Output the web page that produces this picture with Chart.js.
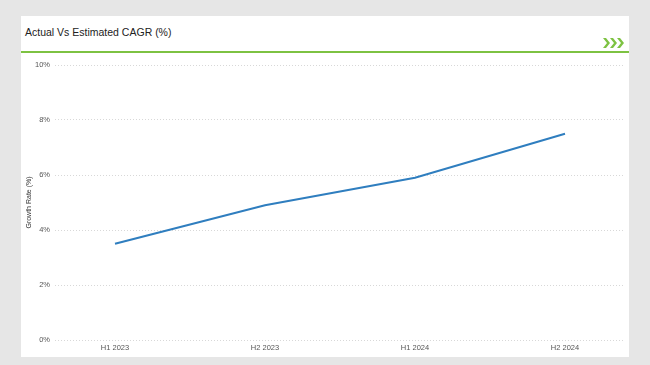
<!DOCTYPE html>
<html lang="en">
<head>
  <meta charset="UTF-8">
  <script src="https://cdn.jsdelivr.net/npm/chart.js"></script>
  <title>Actual Vs Estimated CAGR</title>
  <style>
    body { margin:0; background:#e6e6e6; width:650px; height:365px; position:relative; overflow:hidden; }
    .card { position:absolute; left:21px; top:16px; width:608px; height:341px; background:#fff; }
    .head { height:35px; border-bottom:2px solid #7dc242; position:relative; }
    .head h1 { margin:0; position:absolute; left:4px; top:10px; font:10.5px "Liberation Sans", Arial, sans-serif; color:#222; }
    .chev { position:absolute; right:4px; bottom:3px; }
    .plot { position:relative; width:608px; height:304px; }
  </style>
</head>
<body>
<div class="card">
  <div class="head">
    <h1>Actual Vs Estimated CAGR (%)</h1>
    <svg class="chev" width="22" height="10" viewBox="0 0 22 10">
      <path d="M0 0h3l4 5-4 5H0l4-5z M7 0h3l4 5-4 5H7l4-5z M14 0h3l4 5-4 5h-3l4-5z" fill="#7dc242"/>
    </svg>
  </div>
  <div class="plot"><canvas id="myChart" width="608" height="304"></canvas></div>
</div>

<script>
  var periods = ['H1 2023', 'H2 2023', 'H1 2024', 'H2 2024'];
  var growthRate = [3.5, 4.9, 5.9, 7.5];
  var yTicks = [0, 2, 4, 6, 8, 10];

  var points = growthRate.map(function (v, i) { return { x: i, y: v }; });

  const ctx = document.getElementById('myChart');
  new Chart(ctx, {
    type: 'line',
    data: {
      datasets: [{
        data: points,
        borderColor: '#2f7ebf',
        borderWidth: 2,
        pointRadius: 0,
        tension: 0
      }]
    },
    options: {
      responsive: false,
      animation: false,
      layout: { padding: { top: 12, right: 4, left: 0, bottom: 0 } },
      plugins: { legend: { display: false }, tooltip: { enabled: false } },
      scales: {
        x: {
          type: 'linear',
          min: -0.4,
          max: 3.4,
          afterBuildTicks: function (s) { s.ticks = periods.map(function (p, i) { return { value: i }; }); },
          ticks: {
            callback: function (v) { return periods[v]; },
            font: { family: 'Liberation Sans', size: 7.5 },
            color: '#555',
            maxRotation: 0,
            padding: 3
          },
          grid: { display: false, drawTicks: false },
          border: { display: false },
          afterFit: function (s) { s.height = 17; }
        },
        y: {
          min: 0,
          max: 10,
          afterBuildTicks: function (s) { s.ticks = yTicks.map(function (v) { return { value: v }; }); },
          ticks: {
            callback: function (v) { return v + '%'; },
            font: { family: 'Liberation Sans', size: 7.5 },
            color: '#555',
            padding: 5
          },
          title: {
            display: true,
            text: 'Growth Rate (%)',
            font: { family: 'Liberation Sans', size: 7 },
            color: '#333',
            padding: { top: 4, bottom: 0 }
          },
          grid: { color: '#d8d8d8', tickLength: 0, borderDash: [1, 2] },
          border: { display: false, dash: [1, 2] },
          afterFit: function (s) { s.width = 34; }
        }
      }
    }
  });
</script>
</body>
</html>
